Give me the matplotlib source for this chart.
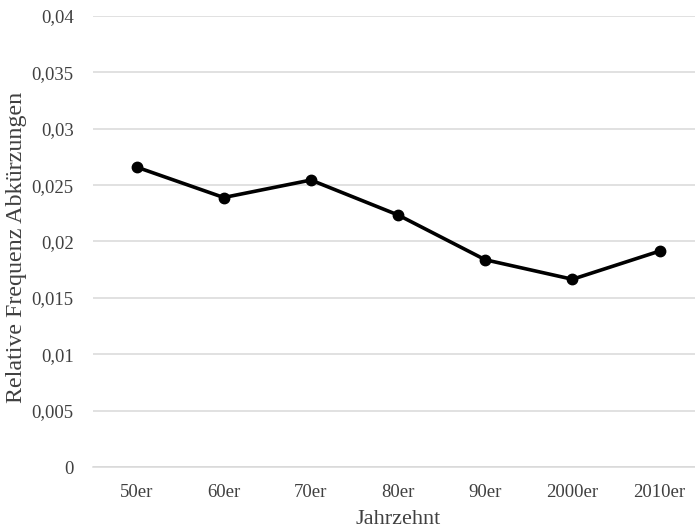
import matplotlib
matplotlib.use('Agg')
import matplotlib.pyplot as plt
from matplotlib.ticker import FuncFormatter

decades = ['50er', '60er', '70er', '80er', '90er', '2000er', '2010er']
freq = [0.0266, 0.0239, 0.02545, 0.02235, 0.01838, 0.01665, 0.01915]

plt.rcParams['font.family'] = ['Liberation Serif', 'DejaVu Serif']

fig = plt.figure(figsize=(6.95, 5.31), dpi=100)
ax = fig.add_axes([0.1338, 0.1205, 0.878, 0.8494])

x = list(range(len(decades)))
ax.plot(x, freq, color='black', linewidth=2.6, marker='o', markersize=7.5, zorder=3)

ax.set_xlim(-0.5, len(decades) - 0.5)
ax.set_ylim(0, 0.04)
ax.set_yticks([i * 0.005 for i in range(9)])
ax.yaxis.set_major_formatter(FuncFormatter(lambda v, p: ('%g' % round(v, 4)).replace('.', ',')))
ax.set_xticks(x)
ax.set_xticklabels(decades)

ax.tick_params(axis='both', length=0, labelsize=13.5, colors='#404040')
ax.tick_params(axis='x', pad=12)
ax.tick_params(axis='y', pad=14)

ax.yaxis.grid(True, color='#d9d9d9', linewidth=1.1)
ax.set_axisbelow(True)
for s in ['top', 'right', 'left']:
    ax.spines[s].set_visible(False)
ax.spines['bottom'].set_color('#d9d9d9')
ax.spines['bottom'].set_linewidth(1.1)

ax.set_xlabel('Jahrzehnt', fontsize=16, color='#404040', labelpad=7)
ax.set_ylabel('Relative Frequenz Abkürzungen', fontsize=17.3, color='#404040', labelpad=3)
ax.yaxis.label.set_y(0.487)

fig.savefig('out.png', dpi=100)
